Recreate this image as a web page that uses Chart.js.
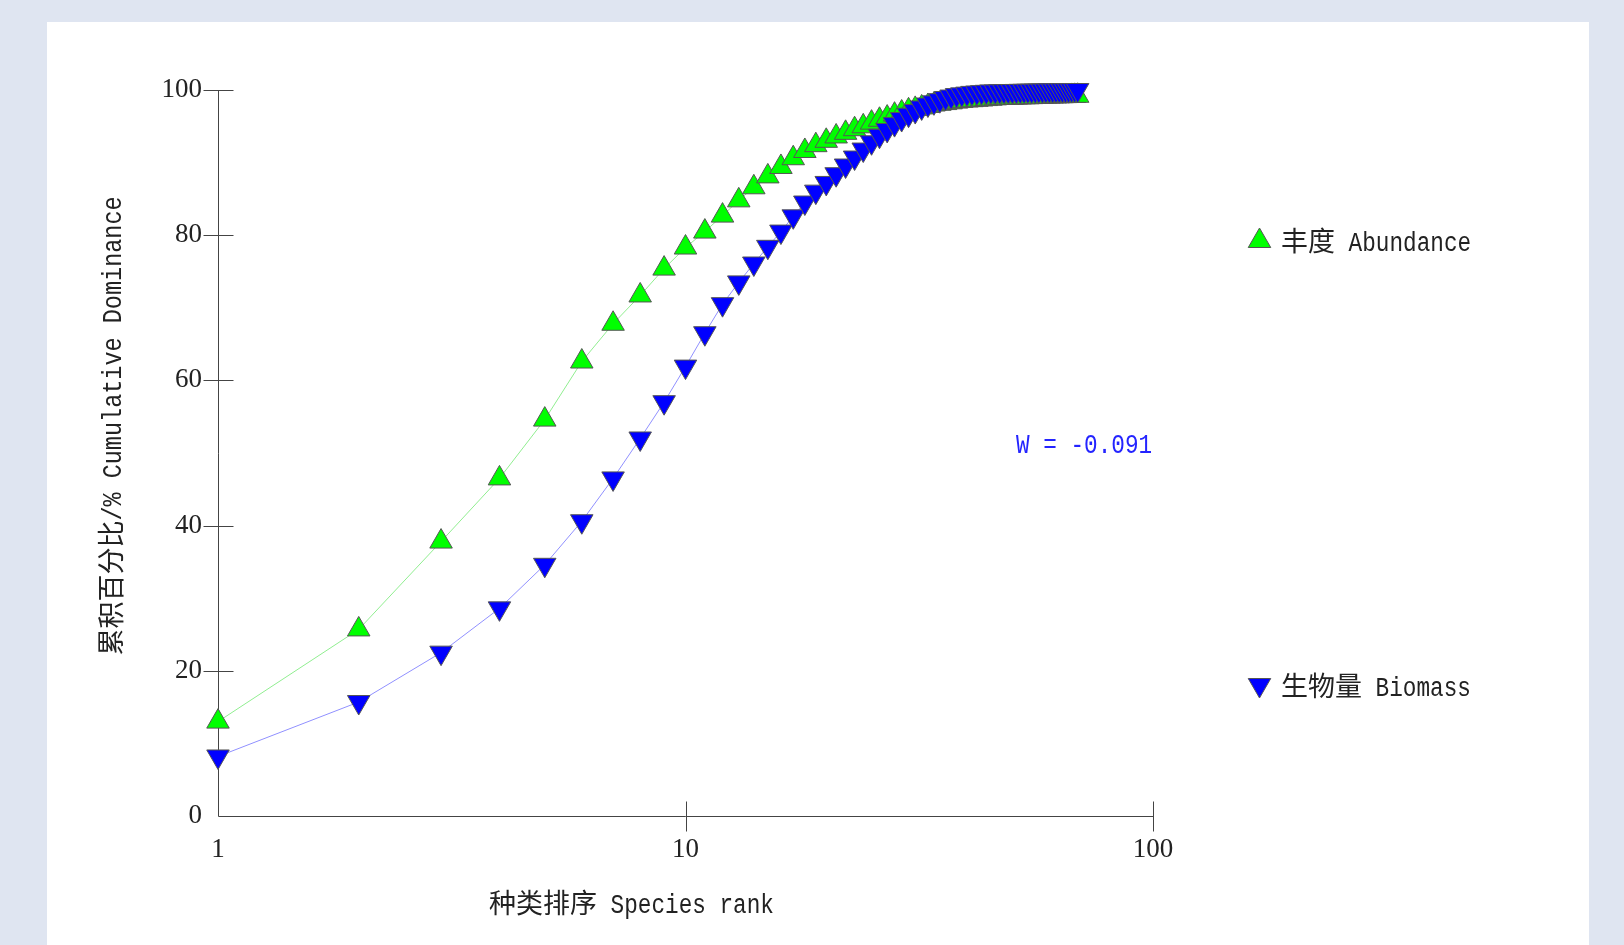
<!DOCTYPE html>
<html>
<head>
<meta charset="utf-8">
<script src="https://cdn.jsdelivr.net/npm/chart.js@4.4.1/dist/chart.umd.min.js"></script>
<style>
  html, body { margin: 0; padding: 0; background: #dfe5f1; overflow: hidden; }
  #card { position: absolute; left: 47px; top: 22px; width: 1542px; height: 940px; background: #fff; }
  #myChart { position: absolute; left: 0; top: 0; }
</style>
</head>
<body>
<div id="card"></div>
<canvas id="myChart" width="1624" height="945"></canvas>
<script>
// species rank (x) and cumulative dominance % (y)
const ranks = [1, 2, 3, 4, 5, 6, 7, 8, 9, 10, 11, 12, 13, 14, 15, 16, 17, 18, 19, 20,
  21, 22, 23, 24, 25, 26, 27, 28, 29, 30, 31, 32, 33, 34, 35, 36, 37, 38, 39, 40,
  41, 42, 43, 44, 45, 46, 47, 48, 49, 50, 51, 52, 53, 54, 55, 56, 57, 58, 59, 60,
  61, 62, 63, 64, 65, 66, 67, 68, 69];

const abundance = [13.0, 25.7, 37.8, 46.5, 54.6, 62.6, 67.8, 71.7, 75.4, 78.3,
  80.5, 82.7, 84.8, 86.6, 88.1, 89.4, 90.6, 91.6, 92.4, 93.0,
  93.6, 94.1, 94.6, 95.0, 95.5, 95.9, 96.2, 96.6, 96.9, 97.2,
  97.4, 97.6, 97.8, 98.0, 98.1, 98.2, 98.3, 98.4, 98.5, 98.55,
  98.6, 98.65, 98.7, 98.75, 98.8, 98.85, 98.9, 98.9, 98.92, 98.94,
  98.96, 98.98, 99.0, 99.0, 99.02, 99.04, 99.06, 99.08, 99.1, 99.1,
  99.12, 99.13, 99.14, 99.15, 99.16, 99.17, 99.18, 99.19, 99.2];

const biomass = [8.2, 15.7, 22.5, 28.6, 34.6, 40.6, 46.5, 52.0, 57.0, 61.9,
  66.5, 70.5, 73.5, 76.1, 78.4, 80.5, 82.6, 84.5, 86.0, 87.2,
  88.4, 89.6, 90.7, 91.8, 92.8, 93.7, 94.5, 95.3, 96.0, 96.6,
  97.1, 97.6, 98.0, 98.3, 98.6, 98.9, 99.1, 99.3, 99.4, 99.5,
  99.6, 99.65, 99.7, 99.75, 99.8, 99.8, 99.82, 99.84, 99.85, 99.86,
  99.87, 99.88, 99.89, 99.9, 99.9, 99.91, 99.92, 99.93, 99.94, 99.95,
  99.95, 99.96, 99.97, 99.97, 99.98, 99.98, 99.99, 100, 100];

const xTicks = [1, 10, 100];
const yTicks = [0, 20, 40, 60, 80, 100];
const wLabel = 'W = -0.091';

const CJK = "27px 'Noto Sans CJK SC'";
const MONO = "27px 'Liberation Mono'";
const SX = 0.84; // narrow the mono font to half-width glyphs

function textWidth(ctx, list) {
  let w = 0;
  for (const p of list) { ctx.font = p.f; w += ctx.measureText(p.t).width * (p.sx || 1); }
  return w;
}
function drawText(ctx, list, x, y) {
  for (const p of list) {
    ctx.font = p.f;
    const sx = p.sx || 1;
    ctx.save();
    ctx.translate(x, y);
    ctx.scale(sx, 1);
    ctx.fillText(p.t, 0, 0);
    ctx.restore();
    x += ctx.measureText(p.t).width * sx;
  }
}

const axesPlugin = {
  id: 'axes',
  beforeDatasetsDraw(chart) {
    const {ctx, scales: {x, y}} = chart;
    const x0 = Math.round(x.getPixelForValue(1)) + 0.5;
    const x1 = x.getPixelForValue(100);
    const y0 = Math.round(y.getPixelForValue(0)) + 0.5;
    const y1 = y.getPixelForValue(100);
    ctx.save();
    ctx.strokeStyle = '#444';
    ctx.lineWidth = 1;
    ctx.beginPath();
    ctx.moveTo(x0, y1);
    ctx.lineTo(x0, y0);
    ctx.lineTo(x1, y0);
    yTicks.filter(v => v > 0).forEach(v => {
      const py = Math.round(y.getPixelForValue(v)) + 0.5;
      ctx.moveTo(x0 - 15, py); ctx.lineTo(x0 + 15, py);
    });
    xTicks.filter(v => v > 1).forEach(v => {
      const px = Math.round(x.getPixelForValue(v)) + 0.5;
      ctx.moveTo(px, y0 - 15); ctx.lineTo(px, y0 + 15);
    });
    ctx.stroke();
    ctx.restore();
  }
};

const labelsPlugin = {
  id: 'labels',
  afterDraw(chart) {
    const ctx = chart.ctx;
    ctx.save();
    ctx.textBaseline = 'alphabetic';
    ctx.textAlign = 'left';
    ctx.fillStyle = '#222';

    // x title
    drawText(ctx, [{t: '种类排序', f: CJK}, {t: ' Species rank', f: MONO, sx: SX}], 489, 913);

    // y title, vertical
    const yt = [{t: '累积百分比', f: CJK}, {t: '/% Cumulative Dominance', f: MONO, sx: 0.87}];
    const w = textWidth(ctx, yt);
    ctx.save();
    ctx.translate(121, 426);
    ctx.rotate(-Math.PI / 2);
    drawText(ctx, yt, -w / 2, 0);
    ctx.restore();

    // legend
    const legend = [
      {cjk: '丰度', en: ' Abundance', y: 241, base: 251, fill: '#00ff00', rot: 0},
      {cjk: '生物量', en: ' Biomass', y: 685, base: 696, fill: '#0000ff', rot: 180}
    ];
    legend.forEach(l => {
      ctx.fillStyle = l.fill;
      ctx.strokeStyle = '#555';
      ctx.lineWidth = 1;
      Chart.helpers.drawPoint(ctx, {pointStyle: 'triangle', radius: 13, rotation: l.rot, borderWidth: 1}, 1259.5, l.y);
      ctx.fillStyle = '#222';
      drawText(ctx, [{t: l.cjk, f: CJK}, {t: l.en, f: MONO, sx: SX}], 1281, l.base);
    });

    // W statistic
    ctx.fillStyle = '#2424ff';
    drawText(ctx, [{t: wLabel, f: MONO, sx: SX}], 1016, 453);
    ctx.restore();
  }
};

new Chart(document.getElementById('myChart'), {
  type: 'scatter',
  data: {
    datasets: [
      {
        label: '丰度 Abundance',
        data: ranks.map((r, i) => ({x: r, y: abundance[i]})),
        showLine: true,
        borderColor: '#90ee90',
        borderWidth: 1,
        pointStyle: 'triangle',
        pointRadius: 13,
        pointBackgroundColor: '#00ff00',
        pointBorderColor: '#555',
        pointBorderWidth: 1,
        order: 2,
        clip: false
      },
      {
        label: '生物量 Biomass',
        data: ranks.map((r, i) => ({x: r, y: biomass[i]})),
        showLine: true,
        borderColor: '#9090ff',
        borderWidth: 1,
        pointStyle: 'triangle',
        pointRotation: 180,
        pointRadius: 13,
        pointBackgroundColor: '#0000ff',
        pointBorderColor: '#555',
        pointBorderWidth: 1,
        order: 1,
        clip: false
      }
    ]
  },
  options: {
    responsive: false,
    animation: false,
    devicePixelRatio: 1,
    layout: { padding: { top: 90, right: 471, left: 0, bottom: 0 } },
    plugins: { legend: { display: false }, tooltip: { enabled: false } },
    scales: {
      x: {
        type: 'logarithmic',
        min: 1,
        max: 100,
        grid: { display: false },
        border: { display: false },
        afterBuildTicks: s => { s.ticks = xTicks.map(v => ({value: v})); },
        afterFit: s => { s.height = 129; },
        ticks: {
          font: { family: 'Liberation Serif', size: 27 },
          color: '#222',
          padding: 10,
          maxRotation: 0,
          autoSkip: false,
          callback: v => String(v)
        }
      },
      y: {
        min: 0,
        max: 100,
        grid: { display: false },
        border: { display: false },
        afterBuildTicks: s => { s.ticks = yTicks.map(v => ({value: v})); },
        afterFit: s => { s.width = 218; },
        ticks: {
          font: { family: 'Liberation Serif', size: 27 },
          color: '#222',
          padding: 8
        }
      }
    }
  },
  plugins: [axesPlugin, labelsPlugin]
});
</script>
</body>
</html>
